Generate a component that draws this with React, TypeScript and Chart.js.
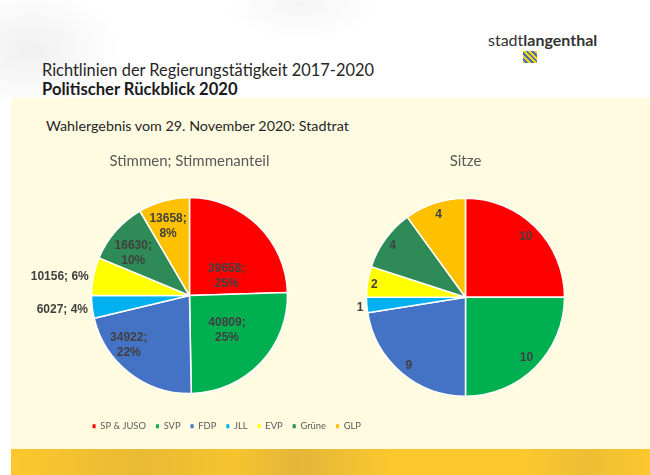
import React, { useEffect, useRef } from "react";
import { Chart, registerables } from "chart.js";

Chart.register(...registerables);

// ---------- data ----------
const parties = ["SP & JUSO", "SVP", "FDP", "JLL", "EVP", "Grüne", "GLP"];
const partyColors = ["#FF0000", "#00B050", "#4472C4", "#00B0F0", "#FFFF00", "#2E8B57", "#FFC000"];
const stimmen = [39658, 40809, 34922, 6027, 10156, 16630, 13658];
const sitze = [10, 10, 9, 1, 2, 4, 4];
const stimmenTitle = "Stimmen; Stimmenanteil";
const sitzeTitle = "Sitze";

// label placement (style): [radius fraction, angle shift in degrees, text align]
const stimmenLabelPlacement: [number, number, CanvasTextAlign][] = [
  [0.43, 18, "center"],
  [0.52, -1, "center"],
  [0.8, 13, "center"],
  [1.045, -1, "right"],
  [1.045, -1, "right"],
  [0.72, -4, "center"],
  [0.74, -2, "center"],
];
const sitzeLabelPlacement: [number, number, CanvasTextAlign][] = [
  [0.86, 0, "center"],
  [0.87, 0, "center"],
  [0.9, -1, "center"],
  [1.07, -1, "center"],
  [0.93, -1, "center"],
  [0.9, -1, "center"],
  [0.88, 0, "center"],
];

type LabelCfg = {
  placement: [number, number, CanvasTextAlign][];
  withPercent: boolean;
};

function makeLabelPlugin(cfg: LabelCfg) {
  return {
    id: "sliceLabels",
    afterDatasetsDraw(chart: any) {
      const meta = chart.getDatasetMeta(0);
      const values: number[] = chart.data.datasets[0].data;
      const total = values.reduce((a, b) => a + b, 0);
      const ctx: CanvasRenderingContext2D = chart.ctx;
      ctx.save();
      ctx.font = "bold 12px 'Liberation Sans', Arial, sans-serif";
      ctx.fillStyle = "#404040";
      ctx.textBaseline = "middle";
      meta.data.forEach((arc: any, i: number) => {
        const p = arc.getProps(["x", "y", "startAngle", "endAngle", "outerRadius"], true);
        const [frac, shift, align] = cfg.placement[i];
        const a = (p.startAngle + p.endAngle) / 2 + (shift * Math.PI) / 180;
        const px = p.x + Math.cos(a) * p.outerRadius * frac;
        const py = p.y + Math.sin(a) * p.outerRadius * frac;
        let lines: string[];
        if (cfg.withPercent) {
          const pct = Math.round((values[i] / total) * 100) + "%";
          lines = align === "center" ? [values[i] + ";", pct] : [values[i] + "; " + pct];
        } else {
          lines = [String(values[i])];
        }
        ctx.textAlign = align;
        const lh = 15;
        lines.forEach((ln, k) => ctx.fillText(ln, px, py + (k - (lines.length - 1) / 2) * lh));
      });
      ctx.restore();
    },
  };
}

const baseGen = () =>
  ((Chart as any).overrides.pie?.plugins?.legend?.labels?.generateLabels ||
    (Chart as any).overrides.doughnut.plugins.legend.labels.generateLabels);

function PieChart(props: {
  values: number[];
  title: string;
  placement: [number, number, CanvasTextAlign][];
  withPercent: boolean;
  showLegend: boolean;
  radius: number;
  padBottom: number;
}) {
  const ref = useRef<HTMLCanvasElement | null>(null);
  useEffect(() => {
    if (!ref.current) return;
    const chart = new Chart(ref.current, {
      type: "pie",
      data: {
        labels: parties,
        datasets: [
          {
            data: props.values,
            backgroundColor: partyColors,
            borderColor: "#FFFFFF",
            borderWidth: 1.5,
            radius: props.radius,
          } as any,
        ],
      },
      options: {
        animation: false,
        responsive: true,
        maintainAspectRatio: false,
        events: [],
        layout: { padding: { top: 0, left: 0, right: 0, bottom: props.padBottom } },
        plugins: {
          title: {
            display: true,
            text: props.title,
            color: "#595959",
            font: { family: "Lato", size: 15, weight: "normal", lineHeight: 1.2 },
            padding: { top: 12, bottom: 9.5 },
          },
          legend: {
            display: props.showLegend,
            position: "bottom",
            align: "end",
            labels: {
              boxWidth: 3,
              boxHeight: 4,
              padding: 10,
              color: "#595959",
              font: { family: "Lato", size: 9.4 },
              generateLabels: (c: any) =>
                baseGen()(c).map((l: any) => ({ ...l, lineWidth: 0, strokeStyle: l.fillStyle })),
            },
          },
          tooltip: { enabled: false },
        },
      } as any,
      plugins: [makeLabelPlugin({ placement: props.placement, withPercent: props.withPercent })],
    });
    return () => chart.destroy();
  }, []);
  return <canvas ref={ref} />;
}

export default function App() {
  const abs = (s: React.CSSProperties): React.CSSProperties => ({ position: "absolute", ...s });
  return (
    <div
      style={{
        position: "fixed",
        left: 0,
        top: 0,
        width: 650,
        height: 475,
        overflow: "hidden",
        background: "#FFFFFF",
        fontFamily: "Lato, 'Open Sans', sans-serif",
      }}
    >
      {/* faint header artwork */}
      <div
        style={abs({
          left: 0,
          top: 0,
          width: 650,
          height: 98,
          background:
            "radial-gradient(ellipse 130px 90px at 30px 50px, rgba(205,205,205,0.3), rgba(255,255,255,0) 70%), radial-gradient(ellipse 110px 50px at 300px 5px, rgba(215,215,215,0.25), rgba(255,255,255,0) 70%)",
        })}
      />
      {/* cream content area */}
      <div style={abs({ left: 11, top: 98, width: 639, height: 351, background: "#FFFBE1" })} />
      {/* yellow footer band */}
      <div
        style={abs({
          left: 11,
          top: 449,
          width: 639,
          height: 26,
          background:
            "linear-gradient(90deg, #FCC82D 0%, #E9BA35 20%, #F5C42E 35%, #E3B63A 45%, #FCC82D 60%, #FCC82D 80%, #EDBE35 90%, #FCC82D 100%)",
        })}
      />
      {/* logo */}
      <div style={abs({ left: 488, top: 32, fontSize: 16, lineHeight: "16px", color: "#333333", whiteSpace: "nowrap" })}>
        stadt<span style={{ fontWeight: 700 }}>langenthal</span>
      </div>
      <div
        style={abs({
          left: 523,
          top: 51,
          width: 14,
          height: 12,
          background: "repeating-linear-gradient(45deg, #F2D21B 0px, #F2D21B 2px, #4A6FB5 2px, #4A6FB5 4px)",
        })}
      />
      {/* headings */}
      <div style={abs({ left: 42, top: 61, fontSize: 16.4, lineHeight: "17px", color: "#262626", whiteSpace: "nowrap" })}>
        Richtlinien der Regierungstätigkeit 2017-2020
      </div>
      <div
        style={abs({
          left: 42,
          top: 81,
          fontSize: 16.6,
          lineHeight: "17px",
          fontWeight: 700,
          color: "#1a1a1a",
          whiteSpace: "nowrap",
        })}
      >
        Politischer Rückblick 2020
      </div>
      <div style={abs({ left: 46, top: 118, fontSize: 14.3, lineHeight: "15px", color: "#262626", whiteSpace: "nowrap" })}>
        Wahlergebnis vom 29. November 2020: Stadtrat
      </div>
      {/* charts */}
      <div style={abs({ left: 8, top: 140, width: 363, height: 301 })}>
        <PieChart
          values={stimmen}
          title={stimmenTitle}
          placement={stimmenLabelPlacement}
          withPercent={true}
          showLegend={true}
          radius={98}
          padBottom={0}
        />
      </div>
      <div style={abs({ left: 330, top: 140, width: 271, height: 301 })}>
        <PieChart
          values={sitze}
          title={sitzeTitle}
          placement={sitzeLabelPlacement}
          withPercent={false}
          showLegend={false}
          radius={99}
          padBottom={26}
        />
      </div>
    </div>
  );
}
